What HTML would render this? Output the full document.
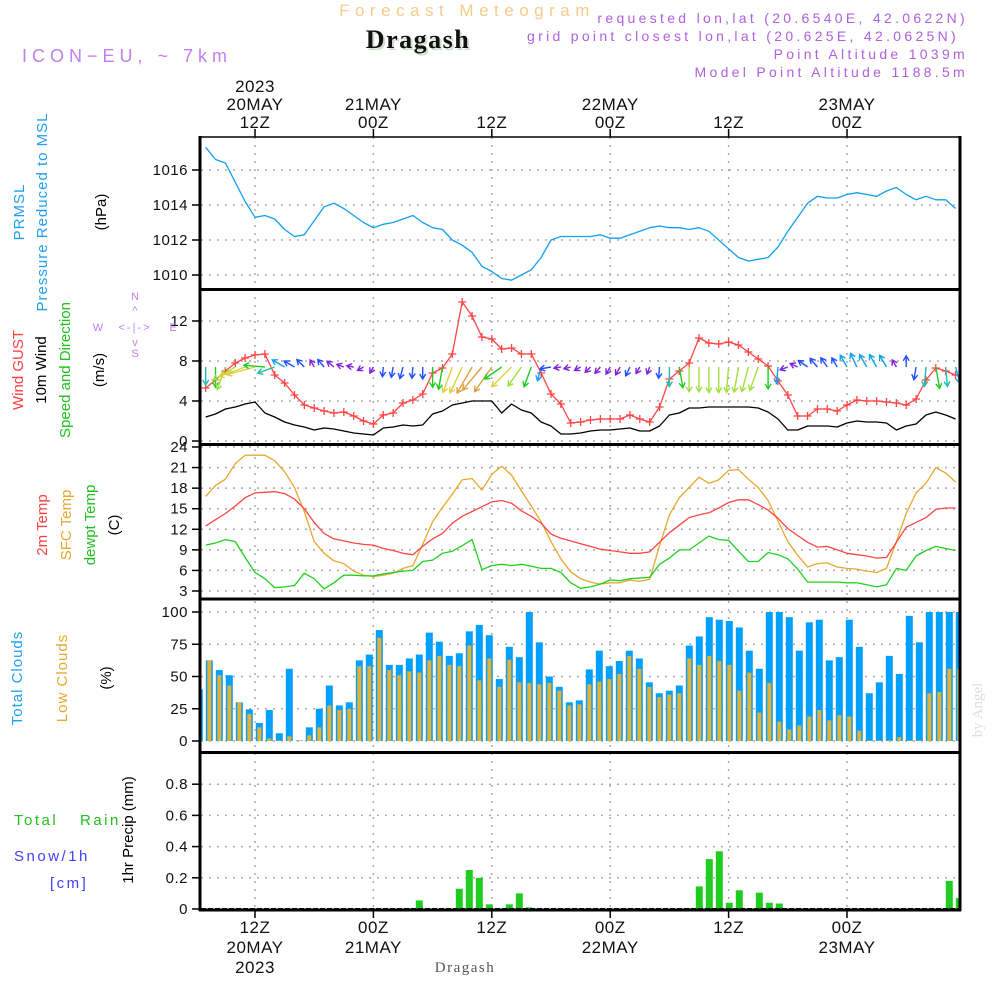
<!DOCTYPE html>
<html><head><meta charset="utf-8"><style>
html,body{margin:0;padding:0;background:#fff;}
svg{display:block;font-family:"Liberation Sans","DejaVu Sans",sans-serif;}
</style></head><body>
<svg id="chart" width="1000" height="1000" viewBox="0 0 1000 1000" xmlns="http://www.w3.org/2000/svg">
<defs><clipPath id="plotclip"><rect x="201" y="137" width="758" height="773"/></clipPath></defs>
<g>
<text x="467" y="16" font-size="17" fill="#f5cc8c" text-anchor="middle" letter-spacing="5.5">Forecast Meteogram</text>
<text x="420" y="50" font-size="26" font-weight="bold" fill="#cfe0cf" text-anchor="middle" letter-spacing="1.5" font-family="Liberation Serif, serif">Dragash</text>
<text x="418" y="48" font-size="26" font-weight="bold" fill="#111" text-anchor="middle" letter-spacing="1.5" font-family="Liberation Serif, serif">Dragash</text>
<text x="22" y="62" font-size="18" fill="#c080f0" letter-spacing="5">ICON−EU, ~ 7km</text>
<g font-size="14" fill="#b060e0" text-anchor="end" letter-spacing="3.3">
<text x="968" y="23">requested lon,lat (20.6540E, 42.0622N)</text>
<text x="959" y="41">grid point closest lon,lat (20.625E, 42.0625N)</text>
<text x="968" y="59">Point Altitude 1039m</text>
<text x="968" y="77">Model Point Altitude 1188.5m</text>
</g>
</g>
<g id="axes"></g>
<g id="series" clip-path="url(#plotclip)"></g>
<g id="frame"></g>
<g id="labels" font-size="15">
<text transform="translate(24,212) rotate(-90)" fill="#20a0f0" text-anchor="middle" letter-spacing="1">PRMSL</text>
<text transform="translate(47,212) rotate(-90)" fill="#20a0f0" text-anchor="middle" letter-spacing="1">Pressure Reduced to MSL</text>
<text transform="translate(106,212) rotate(-90)" fill="#000" text-anchor="middle">(hPa)</text>
<text transform="translate(23,370) rotate(-90)" fill="#ff4040" text-anchor="middle">Wind GUST</text>
<text transform="translate(46,370) rotate(-90)" fill="#000" text-anchor="middle">10m Wind</text>
<text transform="translate(70,370) rotate(-90)" fill="#20c020" text-anchor="middle">Speed and Direction</text>
<text transform="translate(104,370) rotate(-90)" fill="#000" text-anchor="middle">(m/s)</text>
<text transform="translate(47,525) rotate(-90)" fill="#ff4040" text-anchor="middle">2m Temp</text>
<text transform="translate(71,525) rotate(-90)" fill="#e8a830" text-anchor="middle">SFC Temp</text>
<text transform="translate(95,525) rotate(-90)" fill="#20c020" text-anchor="middle">dewpt Temp</text>
<text transform="translate(119,525) rotate(-90)" fill="#000" text-anchor="middle">(C)</text>
<text transform="translate(22,678) rotate(-90)" fill="#20a0f0" text-anchor="middle" letter-spacing="1">Total Clouds</text>
<text transform="translate(67,678) rotate(-90)" fill="#e8a830" text-anchor="middle" letter-spacing="1">Low Clouds</text>
<text transform="translate(111,678) rotate(-90)" fill="#000" text-anchor="middle">(%)</text>
<text x="14" y="825" fill="#20c020" letter-spacing="2.5">Total</text>
<text x="80" y="825" fill="#20c020" letter-spacing="2.5">Rain</text>
<text x="14" y="861" fill="#4040ff" letter-spacing="2.5">Snow/1h</text>
<text x="50" y="888" fill="#4040ff" letter-spacing="2.5">[cm]</text>
<text transform="translate(133,830) rotate(-90)" fill="#000" text-anchor="middle">1hr Precip (mm)</text>
<text x="465" y="972" font-size="15" fill="#555" text-anchor="middle" font-family="Liberation Serif, serif" letter-spacing="1.5">Dragash</text>
<text transform="translate(982,710) rotate(-90)" font-size="15" fill="#dde0dd" text-anchor="middle" font-family="Liberation Serif, serif">by Angel</text>
<g fill="#c080f0" font-size="11">
<text x="135" y="300" text-anchor="middle">N</text><text x="135" y="357" text-anchor="middle">S</text>
<text x="98" y="331" text-anchor="middle">W</text><text x="173" y="331" text-anchor="middle">E</text>
<text x="135" y="331" text-anchor="middle" letter-spacing="2">&lt;-|-&gt;</text>
<text x="135" y="314" text-anchor="middle">^</text>
<text x="135" y="346" text-anchor="middle">v</text>
</g>
</g>
</svg>
<script>
// ---------- data (hourly, t = hours since 00Z 20MAY, from t=7) ----------
const startHour = 7;
const pressure = [1017.3,1016.6,1016.4,1015.3,1014.2,1013.3,1013.4,1013.2,1012.6,1012.2,1012.3,1013.1,1013.9,1014.1,1013.8,1013.4,1013.0,1012.7,1012.9,1013.0,1013.2,1013.4,1013.0,1012.7,1012.6,1012.0,1011.7,1011.3,1010.5,1010.2,1009.8,1009.7,1010.0,1010.3,1011.0,1012.0,1012.2,1012.2,1012.2,1012.2,1012.3,1012.1,1012.1,1012.3,1012.5,1012.7,1012.8,1012.7,1012.7,1012.6,1012.7,1012.5,1012.0,1011.5,1011.0,1010.8,1010.9,1011.0,1011.6,1012.5,1013.3,1014.1,1014.5,1014.4,1014.4,1014.6,1014.7,1014.6,1014.5,1014.8,1015.0,1014.6,1014.3,1014.5,1014.3,1014.3,1013.8];
const gust = [5.3,6.1,7.0,7.8,8.3,8.6,8.7,6.6,5.8,4.6,3.6,3.3,3.0,2.8,2.9,2.5,2.0,1.7,2.6,2.8,3.8,4.1,4.7,6.8,7.3,8.7,13.9,12.5,10.4,10.2,9.2,9.3,8.7,8.7,6.8,4.7,3.7,1.8,1.9,2.1,2.2,2.2,2.2,2.6,2.2,1.9,3.4,6.2,7.0,7.8,10.3,9.8,9.7,9.9,9.6,8.9,8.2,7.5,6.0,4.6,2.5,2.5,3.2,3.2,3.0,3.6,4.1,4.0,4.0,3.9,3.8,3.6,4.2,6.1,7.3,7.0,6.6];
const wind10m = [2.4,2.7,3.2,3.4,3.7,3.9,2.8,2.4,1.9,1.6,1.4,1.1,1.3,1.2,1.0,0.8,0.7,0.6,1.3,1.4,1.6,1.5,1.6,2.7,3.0,3.6,3.8,4.0,4.0,4.0,2.8,3.7,3.1,2.8,1.9,1.5,0.7,0.7,0.8,1.0,1.1,1.1,1.2,1.3,1.0,1.0,1.5,2.6,2.8,3.3,3.3,3.4,3.4,3.4,3.4,3.4,3.3,2.9,2.2,1.1,1.1,1.5,1.5,1.5,1.4,1.8,2.0,1.9,1.9,1.8,1.1,1.5,1.7,2.6,2.9,2.6,2.2];
const windDir = [0,0,20,60,70,75,95,70,120,120,135,150,140,130,110,100,60,30,5,10,15,5,0,0,10,20,25,30,40,35,55,45,35,20,15,80,80,75,60,45,40,30,30,25,30,20,5,0,350,0,0,0,0,5,10,15,20,0,5,70,115,125,140,145,150,150,155,150,150,150,150,180,10,5,350,355,345];
const temp2m = [12.5,13.4,14.3,15.4,16.6,17.3,17.4,17.5,17.2,16.4,15.0,13.0,11.4,10.6,10.3,10.0,9.8,9.7,9.2,8.9,8.5,8.3,9.5,10.6,11.4,12.9,13.9,14.6,15.3,16.0,16.2,15.8,14.7,13.9,12.9,11.3,10.7,10.3,9.9,9.5,9.1,8.9,8.7,8.5,8.5,8.7,10.1,11.5,12.6,13.7,14.1,14.4,15.1,15.9,16.3,16.3,15.6,14.8,13.6,12.1,11.1,10.1,9.4,9.5,9.0,8.5,8.3,8.1,7.8,7.9,10.1,12.3,13.0,13.7,14.9,15.1,15.1];
const sfcTemp = [16.8,18.4,19.3,21.6,22.8,22.8,22.8,22.0,20.4,18.1,14.6,10.2,8.5,7.4,7.0,5.9,5.3,5.1,5.3,5.6,6.3,6.7,9.8,13.1,15.2,17.1,19.2,19.4,17.7,20.0,21.2,19.9,17.6,15.4,13.1,10.2,7.7,5.8,4.8,4.3,4.0,4.2,4.2,4.6,4.4,4.7,9.6,14.1,16.6,18.1,19.6,18.7,19.2,20.6,20.7,19.3,18.1,16.2,13.2,10.2,8.2,6.5,7.0,7.1,6.5,6.3,6.2,5.9,5.7,6.3,10.2,14.3,17.3,18.7,21.0,20.2,18.9];
const dewpt = [9.7,10.0,10.5,10.2,7.9,5.7,4.8,3.5,3.6,3.8,5.6,4.8,3.3,4.2,5.3,5.3,5.2,5.2,5.5,5.7,5.9,6.0,7.3,7.5,8.5,8.8,9.6,10.5,6.1,6.7,6.9,6.7,6.9,6.6,6.3,6.3,5.7,4.2,3.4,3.6,4.0,4.6,4.5,4.8,4.9,5.0,6.9,7.8,9.0,9.0,10.0,11.0,10.5,10.4,8.8,7.3,7.3,8.6,8.3,7.7,6.2,4.3,4.3,4.3,4.3,4.2,4.2,3.9,3.6,3.9,6.3,6.0,8.1,8.9,9.5,9.2,8.9];
// hourly bars (index 0 = first bar at left edge)
const totalClouds = [40,62.5,55,51,30,24.5,14,24,6,56,0.5,10.6,25,43,27.6,30,62.5,67,86,59,59,64,67,84,77,66,68,85,90,82,48,73,65,100,76.5,50,42,30,31.5,55.5,70,58,62,70,64,45.5,37,39,43,74,81,96,94,93,88,70,56,100,100,96,70,92,94,62.5,65,94,73,37,45.5,66,52,97,76.5,100,100,100,100];
const lowClouds = [40,62.5,51,43,30,21,10.6,2,0.5,3.6,0.3,4.4,10.6,27.6,24,25,58,58,80,55,51,54,53,62.5,66,59,58,74,47,64,42,63,45.5,45,44,45,39,27.6,28.4,44,46,48,52,66,56,42,34,36,37,64,59,66,62,59,39,53,22,45,15,9,12,19,24,16,20,19,8,0.5,0.5,0.5,3,0.5,0.5,37,38,56,56];
const precip = [0,0,0,0,0,0,0,0,0,0,0,0,0,0,0,0,0,0,0,0,0,0,0.055,0,0,0,0.13,0.25,0.2,0.03,0,0.03,0.1,0.01,0,0,0,0,0,0,0,0,0,0,0,0,0,0,0,0,0.145,0.32,0.37,0.04,0.12,0,0.105,0.04,0.035,0,0,0,0,0,0,0,0,0,0,0,0,0,0,0,0,0.18,0.07];
const pressureTicks = [1010,1012,1014,1016];
const windTicks = [0,4,8,12];
const tempTicks = [3,6,9,12,15,18,21,24];
const cloudTicks = [0,25,50,75,100];
const precipTicks = [0,0.2,0.4,0.6,0.8];
const gridHours = [12,24,36,48,60,72];
const topLabels = [["2023","20MAY","12Z"],["","21MAY","00Z"],["","","12Z"],["","22MAY","00Z"],["","","12Z"],["","23MAY","00Z"]];
const bottomLabels = [["12Z","20MAY","2023"],["00Z","21MAY",""],["12Z","",""],["00Z","22MAY",""],["12Z","",""],["00Z","23MAY",""]];

// ---------- scales ----------
const NS="http://www.w3.org/2000/svg";
const xs = t => 255 + (t-12)*9.867;
const xb = i => 199.3 + i*10;
const yP = p => 170 + (1016-p)*17.5;
const yW = v => 441 - v*10;
const yT = T => 447 + (24-T)*6.857;
const yC = c => 741 - c*1.29;
const yR = r => 909 - r*156;
const L=201, R=959;
function el(tag, attrs, parent){const e=document.createElementNS(NS,tag);for(const k in attrs)e.setAttribute(k,attrs[k]);parent.appendChild(e);return e;}
const axes=document.getElementById('axes'), series=document.getElementById('series'), frame=document.getElementById('frame');

gridHours.forEach((h,k)=>{
  const x=xs(h);
  const g=el('line',{x1:x,x2:x,y1:137,y2:910,stroke:'#aaa','stroke-width':1.5,'stroke-dasharray':'2 6'},axes);
  
  
  el('line',{x1:x,x2:x,y1:129,y2:137,stroke:'#000','stroke-width':1.5},axes);
  el('line',{x1:x,x2:x,y1:910,y2:918,stroke:'#000','stroke-width':1.5},axes);
  topLabels[k].forEach((s,j)=>{ if(!s) return;
    const t=el('text',{x:x,y:92+j*18,'font-size':17,'text-anchor':'middle',fill:'#111','letter-spacing':0.5},axes); t.textContent=s;
    
    
  });
  bottomLabels[k].forEach((s,j)=>{ if(!s) return;
    const t=el('text',{x:x,y:933+j*20,'font-size':17,'text-anchor':'middle',fill:'#111','letter-spacing':0.5},axes); t.textContent=s;
    
    
  });
});
function yAxis(ticks, sc, fmt, name){
  ticks.forEach(v=>{
    const y=sc(v);
    const g=el('line',{x1:L,x2:R,y1:y,y2:y,stroke:'#aaa','stroke-width':1.5,'stroke-dasharray':'2 6'},axes);
    
    
    el('line',{x1:192,x2:201,y1:y,y2:y,stroke:'#000','stroke-width':1.5},axes);
    const t=el('text',{x:188,y:y+5,'font-size':15,'text-anchor':'end',fill:'#111','letter-spacing':0.5},axes); t.textContent=fmt(v);
    
    
  });
}
yAxis(pressureTicks,yP,v=>v,'pressure');
yAxis(windTicks,yW,v=>v,'wind');
yAxis(tempTicks,yT,v=>v,'temp');
yAxis(cloudTicks,yC,v=>v,'clouds');
yAxis(precipTicks,yR,v=>v===0?'0':v.toFixed(1),'precip');

function line(arr, sc, color, name, w){
  const pts=arr.map((v,i)=>xs(startHour+i).toFixed(1)+','+sc(v).toFixed(1)).join(' ');
  const p=el('polyline',{points:pts,fill:'none',stroke:color,'stroke-width':w||1.3,'stroke-linejoin':'round'},series);
  
  
}
totalClouds.forEach((v,i)=>{
  const r=el('rect',{x:xb(i)-3.5,y:yC(v),width:7,height:yC(0)-yC(v),fill:'#00a0ff'},series);
  
  
});
lowClouds.forEach((v,i)=>{
  const r=el('rect',{x:xb(i)-2,y:yC(v),width:4,height:yC(0)-yC(v),fill:'#e6b030'},series);
  
  
});
precip.forEach((v,i)=>{ if(v<=0) return;
  const r=el('rect',{x:xb(i)-3.5,y:yR(v),width:7,height:yR(0)-yR(v),fill:'#20cc20'},series);
  
  
});
el('line',{x1:L,x2:R,y1:909,y2:909,stroke:'#000','stroke-width':2,'stroke-dasharray':'5 2'},series);
line(pressure,yP,'#10a0f0','pressure-line');
line(wind10m,yW,'#000','wind-10m-line');
line(gust,yW,'#ff4444','gust-line');
gust.forEach((v,i)=>{
  const x=xs(startHour+i), y=yW(v);
  const m=el('path',{d:`M${x-4},${y}H${x+4}M${x},${y-4}V${y+4}`,stroke:'#ff4444','stroke-width':1.3},series);
  
  
});
line(sfcTemp,yT,'#e8a830','sfc-temp-line');
line(temp2m,yT,'#ff4444','temp-2m-line');
line(dewpt,yT,'#20d020','dewpt-line');
function windColor(s){ if(s<1.3)return '#8020e0'; if(s<1.8)return '#2050ff'; if(s<2.4)return '#10a0f0'; if(s<2.7)return '#20c0b0'; if(s<3.1)return '#20cc20'; if(s<3.6)return '#a0e040'; if(s<3.95)return '#e0d040'; return '#e0a040'; }
windDir.forEach((d,i)=>{
  const s=wind10m[i], x0=xs(startHour+i), y0=367, len=Math.max(7,s*7.5);
  const a=(d+180)*Math.PI/180;
  const x1=x0+len*Math.sin(a), y1=y0-len*Math.cos(a);
  const hx=Math.sin(a), hy=-Math.cos(a);
  const px=-hy, py=hx;
  const c=windColor(s);
  const p=el('path',{d:`M${x0.toFixed(1)},${y0}L${x1.toFixed(1)},${y1.toFixed(1)}M${(x1-5*hx+3*px).toFixed(1)},${(y1-5*hy+3*py).toFixed(1)}L${x1.toFixed(1)},${y1.toFixed(1)}L${(x1-5*hx-3*px).toFixed(1)},${(y1-5*hy-3*py).toFixed(1)}`,stroke:c,'stroke-width':1.4,fill:'none'},series);
  
  
});
[[137,1.5],[289.5,3],[444.5,3],[599,3],[752.5,3],[910,3]].forEach(([y,w])=>{
  const l=el('line',{x1:199,x2:961,y1:y,y2:y,stroke:'#000','stroke-width':w},frame);
  
  
});
const lf=el('line',{x1:200,x2:200,y1:136,y2:911,stroke:'#000','stroke-width':3},frame);


const rf=el('line',{x1:960,x2:960,y1:136,y2:911,stroke:'#000','stroke-width':3},frame);


</script>
</body></html>
